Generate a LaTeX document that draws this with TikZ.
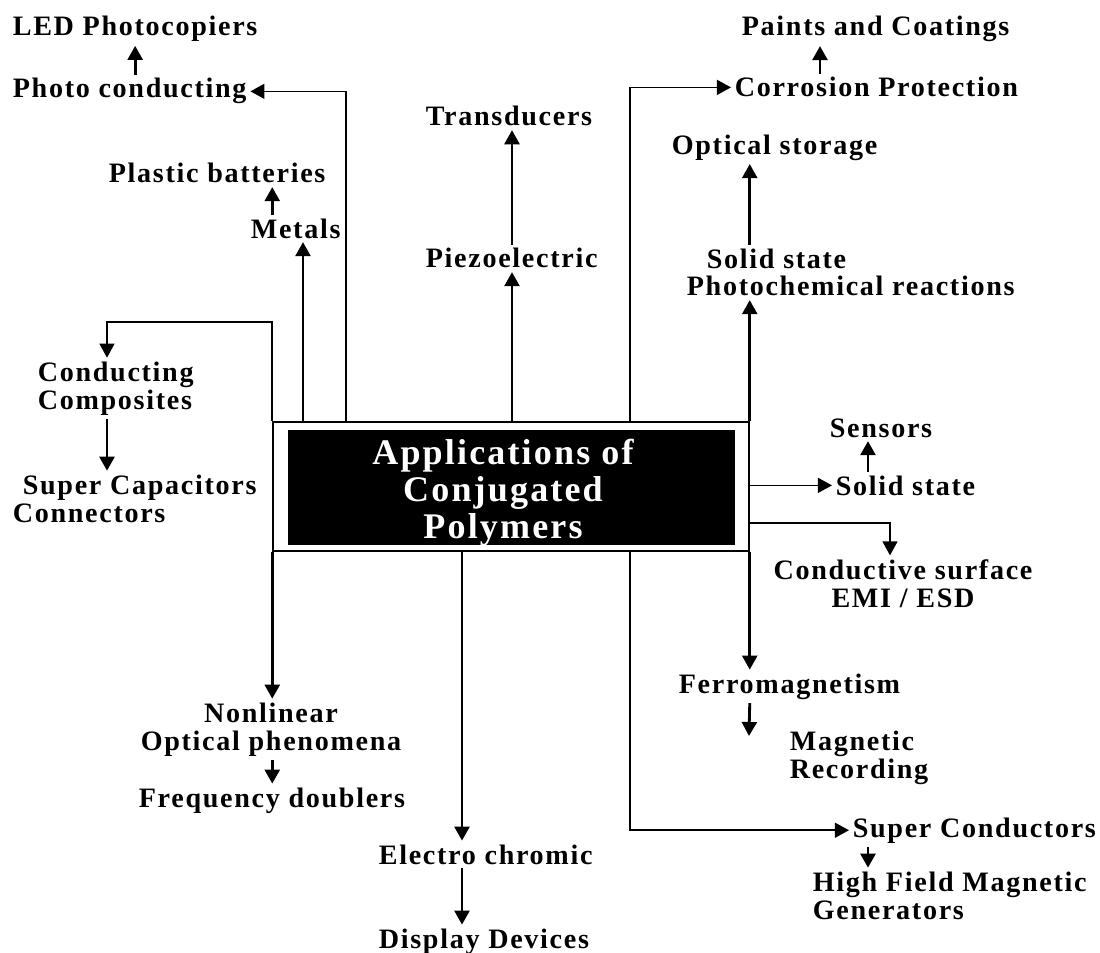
\documentclass[tikz,border=0pt]{standalone}
\usepackage{fontspec}
\setmainfont{Liberation Serif}[LetterSpace=6]
\usetikzlibrary{arrows.meta}

\begin{document}
\begin{tikzpicture}[x=0.02cm, y=-0.02cm,
		lbl/.style={font=\bfseries\fontsize{16}{15.9}\selectfont, inner sep=2pt, anchor=base west},
		link/.style={line width=0.9pt, -{Triangle[length=8pt,width=8.5pt]}},
		arr/.style={line width=1.6pt, -{Triangle[length=8pt,width=8.5pt]}}]
		\useasboundingbox (0,0) rectangle (1100,953);

		\node[draw, line width=0.9pt, minimum width=9.52cm, minimum height=2.58cm] (app) at (511,486.5) {};
		\fill ([shift={(16,9)}]app.north west) rectangle ([shift={(-15,-7)}]app.south east);
		\node[font=\bfseries\fontsize{20.5}{21}\selectfont, text=white, align=center, anchor=base] (ttl) at (503,538) {Applications of\\Conjugated\\Polymers};

		\node[lbl] (led) at (9,36) {LED Photocopiers};
		\node[lbl] (photo) at (9,98) {Photo conducting};
		\node[lbl] (plastic) at (105,183) {Plastic batteries};
		\node[lbl] (metals) at (247,238) {Metals};
		\node[lbl] (transd) at (422,126) {Transducers};
		\node[lbl] (piezo) at (422,268) {Piezoelectric};
		\node[lbl] (paints) at (738,36) {Paints and Coatings};
		\node[lbl] (corr) at (731,97) {Corrosion Protection};
		\node[lbl] (optic) at (668,154) {Optical storage};
		\node[lbl, align=left] (photochem) at (683,296) {\hspace*{0.4cm}Solid state\\Photochemical reactions};
		\node[lbl, align=left] (ccomp) at (34,409) {Conducting\\Composites};
		\node[lbl, align=left] (supcap) at (9,522) {\hspace*{0.2cm}Super Capacitors\\Connectors};
		\node[lbl] (sensors) at (826,437) {Sensors};
		\node[lbl] (solid) at (832,495) {Solid state};
		\node[lbl, align=center, anchor=base] (cond) at (903,607) {Conductive surface\\EMI / ESD};
		\node[lbl, align=center, anchor=base] (nonlin) at (271,750) {Nonlinear\\Optical phenomena};
		\node[lbl] (freq) at (135,807) {Frequency doublers};
		\node[lbl] (electro) at (375,864) {Electro chromic};
		\node[lbl] (display) at (375,948) {Display Devices};
		\node[lbl] (ferro) at (675,693) {Ferromagnetism};
		\node[lbl, align=left] (magrec) at (786,778) {Magnetic\\Recording};
		\node[lbl] (superc) at (849,837) {Super Conductors};
		\node[lbl, align=left] (high) at (809,919) {High Field Magnetic\\Generators};

		\path (303,422) coordinate (tm) (346,422) coordinate (tp) (512,422) coordinate (tz)
			(630,422) coordinate (tc) (107,322) coordinate (lk) (820,0) coordinate (xc)
			(868,0) coordinate (xs) (890,523) coordinate (rc) (462,551) coordinate (be)
			(630,551) coordinate (bs) (749,736) coordinate (fm);

		\draw[arr] (tm) -- (metals.south -| tm);
		\draw[arr] (metals.north -| app.west) -- (plastic.south -| app.west);
		\draw[link] (tp) |- (photo.east);
		\draw[arr] (photo.north -| led) -- (led.south);
		\draw[arr] (tz) -- (piezo.south -| tz);
		\draw[arr] (piezo.north -| tz) -- (transd.south -| tz);
		\draw[link] (tc) |- (corr.west);
		\draw[arr] (corr.north -| xc) -- (paints.south -| xc);
		\draw[arr] (app.north east) -- (photochem.south -| app.north east);
		\draw[arr] (photochem.north -| app.north east) -- (optic.south -| app.north east);

		\draw[link] (app.north west) |- (lk) -- (ccomp.north -| lk);
		\draw[arr] (ccomp.south -| lk) -- (supcap.north -| lk);

		\draw[link] (app.east |- solid) -- (solid.west);
		\draw[arr] (solid.north -| xs) -- (sensors.south -| xs);
		\draw[link] (app.east |- rc) -| (cond.north -| rc);

		\draw[arr] (app.south west) -- (nonlin.north -| app.south west);
		\draw[arr] (nonlin.south -| app.south west) -- (freq.north -| app.south west);
		\draw[arr] (be) -- (electro.north -| be);
		\draw[arr] (electro.south -| be) -- (display.north -| be);
		\draw[arr] (app.south east) -- (ferro.north -| app.south east);
		\draw[arr] (ferro.south -| app.south east) -- (fm);
		\draw[link] (bs) |- (superc.west);
		\draw[arr] (superc.south -| xs) -- (high.north -| xs);
	\end{tikzpicture}
\end{document}
